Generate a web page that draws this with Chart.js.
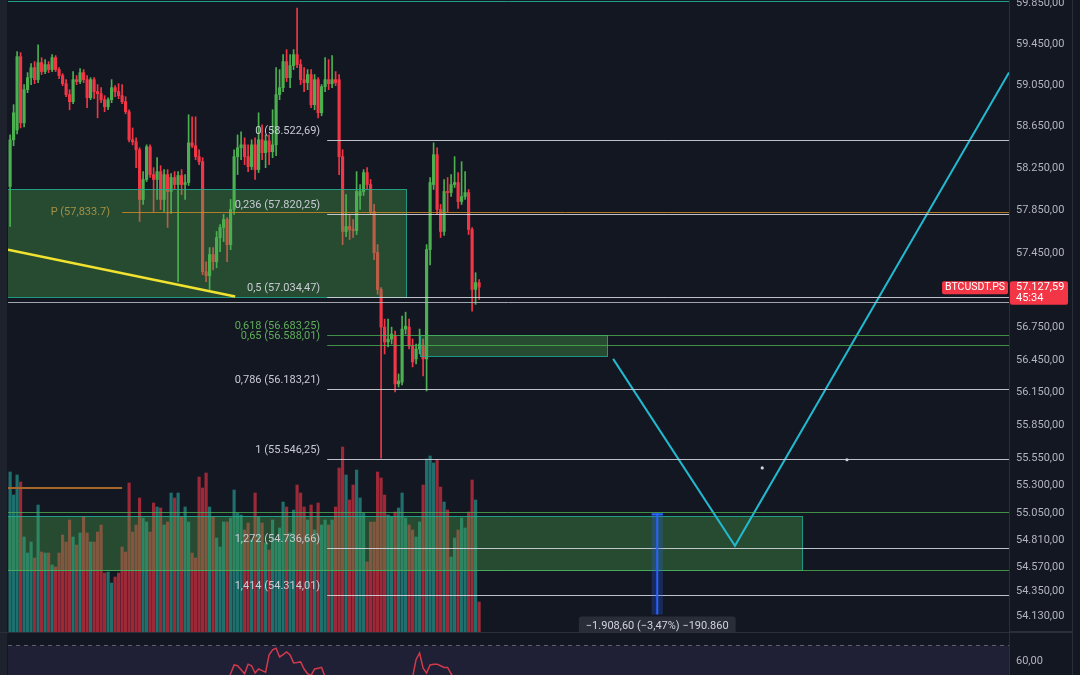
<!DOCTYPE html>
<html>
<head>
<meta charset="utf-8">
<title>BTCUSDT.PS</title>
<script src="https://cdn.jsdelivr.net/npm/chart.js@4.4.1/dist/chart.umd.min.js"></script>
<style>
  html, body { margin: 0; padding: 0; background: #131722; overflow: hidden; }
  #mainWrap { position: absolute; left: 0; top: 0; width: 1080px; height: 632px; }
  #rsiWrap { position: absolute; left: 0; top: 632px; width: 1080px; height: 43px; }
</style>
</head>
<body>
<div id="mainWrap"><canvas id="main"></canvas></div>
<div id="rsiWrap"><canvas id="rsi"></canvas></div>
<script>
// ---- candles (one per bar, left to right) ----
const opens = [
  58077,58523,58618,59326,58686,59006,59122,59219,59103,59268,
  59181,59249,59200,59316,59200,59142,59064,58958,58890,59103,
  59084,59171,59103,58928,59103,58987,58967,58909,58841,58909,
  59025,58987,58948,58890,58793,58523,58504,58428,57954,58144,
  58456,58191,58144,58219,57954,58191,58030,58163,58096,58182,
  58096,58115,58494,58466,58362,58314,57272,57235,57433,57366,
  57594,57689,57764,57527,57859,58362,58447,58475,58362,58267,
  58475,58238,58523,58400,58513,58409,58475,58958,59025,59278,
  59122,59239,59346,59249,59103,59074,59152,58861,59103,58783,
  59035,59103,59064,59103,59103,58362,57651,57698,57670,57660,
  57992,58030,58210,58096,57840,57452,57106,56755,56617,56644,
  56672,56229,56247,56737,56755,56580,56460,56552,56580,56460,
  57480,58096,58381,57859,57651,58030,58020,58096,58115,57935,
  57982,58020,57670,57106,57170
];
const highs = [
  58570,58861,59375,59365,59055,59171,59258,59278,59442,59316,
  59297,59278,59346,59336,59219,59161,59103,59006,59181,59142,
  59210,59200,59142,59122,59122,59055,59025,58948,58928,59103,
  59045,59064,59055,58938,58812,58637,58542,58447,58219,58475,
  58475,58257,58352,58276,58238,58238,58200,58219,58219,58238,
  58191,58764,58744,58744,58428,58352,57366,57499,57499,57651,
  57717,57812,57783,57954,58428,58570,58599,58542,58475,58523,
  58542,58783,58667,58570,58570,58812,59219,59200,59346,59394,
  59346,59394,59801,59297,59219,59200,59200,59152,59122,59055,
  59316,59297,59336,59181,59152,58428,58001,57812,57764,58219,
  58096,58238,58257,58144,57907,57527,57124,56829,56829,56755,
  56718,56321,56857,56894,56829,56644,56598,56737,56644,57527,
  58163,58494,58447,57907,58144,58163,58191,58362,58210,58314,
  58219,58049,57689,57263,57198
];
const lows = [
  57698,58466,58580,58637,58647,58977,59055,59064,59074,59152,
  59161,59171,59181,59181,59113,59045,58938,58812,58870,59055,
  59064,59074,58831,58909,58919,58734,58880,58793,58812,58880,
  58938,58919,58870,58773,58504,58475,58257,57745,57907,58125,
  58163,57840,57954,57859,57840,57689,57821,58049,57180,58001,
  57954,58087,58447,58333,58286,57244,57180,57106,57290,57309,
  57461,57556,57366,57480,57812,58191,58333,58286,58219,58238,
  58144,58210,58333,58257,58286,58352,58371,58909,58987,59084,
  59025,59200,59219,59055,58987,59006,58831,58812,58734,58754,
  58987,59006,59025,59045,58191,57527,57603,57575,57594,57622,
  57859,57992,58049,57812,57385,57060,55550,56506,56570,56598,
  56155,56201,56220,56690,56552,56386,56414,56506,56303,56164,
  57337,58049,57812,57594,57613,57831,57982,58068,57869,57907,
  57954,57622,56903,56967,57014
];
const closes = [
  58523,58783,59326,58686,59006,59122,59219,59103,59268,59181,
  59249,59200,59316,59200,59142,59064,58958,58890,59103,59084,
  59171,59103,58928,59103,58987,58967,58909,58841,58909,59025,
  58987,58948,58890,58793,58523,58504,58428,57954,58144,58456,
  58191,58144,58219,57954,58191,58030,58163,58096,58182,58096,
  58115,58494,58466,58362,58314,57272,57235,57433,57366,57594,
  57689,57764,57527,57859,58362,58447,58475,58362,58267,58475,
  58238,58523,58400,58513,58409,58475,58958,59025,59278,59122,
  59239,59346,59249,59103,59074,59152,58861,59103,58783,59035,
  59103,59064,59103,59074,58362,57651,57698,57670,57660,58030,
  58030,58210,58096,57840,57452,57106,56755,56617,56644,56690,
  56229,56257,56737,56764,56580,56432,56552,56598,56460,57480,
  58115,58381,57859,57651,58030,58020,58096,58115,57935,57982,
  58020,57670,57106,57170,57127.59
];
const volumes = [
  1600,1370,1570,1500,950,790,900,740,1270,800,
  790,790,670,650,790,970,900,1120,950,870,
  990,1150,990,900,900,1000,1070,590,600,490,
  550,590,850,800,1490,1000,1070,1340,1140,1100,
  1000,1290,1250,1240,1070,1100,1390,1340,1390,1150,
  1250,1100,790,740,1550,1440,1590,1250,1150,940,
  850,1100,1100,1140,1420,1190,1170,1020,1090,920,
  1390,1150,1090,890,820,1120,920,1040,1300,1250,
  990,1220,1470,1390,1250,1120,1270,1020,1290,1070,
  1120,1070,1120,1250,1640,1850,1570,1320,1470,1620,
  1340,1190,700,1100,1100,1600,1540,1370,1170,1150,
  1200,1240,1390,1140,1070,1020,950,1100,1470,1730,
  1760,1690,1720,1450,1300,1220,750,940,1020,1140,
  1040,1200,1520,1320,300
];
const rsi = [
  46,48,50,44,47,48,49,47,49,47,
  48,47,49,47,46,45,43,42,46,46,
  48,47,44,47,45,45,44,43,44,47,
  46,45,44,42,37,37,36,30,35,41,
  37,37,38,36,39,37,40,39,40,41,
  41,48,47,45,44,33,33,37,36,41,
  43,44,48,52,57.5,57,54.5,52,58,57,
  52.5,55,54,53,63.8,67,68,62.5,64,65.6,
  63.8,58.8,59,59.4,55,52,51,55,55.5,56,
  50,49,50,49.5,40,33,29,29,29,34,
  35,38,36,32,27,23,20,21,22,23,
  20,21,30,31,36,50,61,65,55.5,52.5,
  57.5,58,58,57,56,56,52,49,46,47,
  47,42,35,37,36
];

// ---- axis ticks ----
const priceTicks = [59850,59450,59050,58650,58250,57850,57450,56750,56450,56150,55850,55550,55300,55050,54810,54570,54350,54130];
const rsiTicks = [60];
const rsiUpper = 70;

// ---- drawings (bar index / price) ----
const fibRatios = ['0','0,236','0,5','0,618','0,65','0,786','1','1,272','1,414'];
const fibPrices = [58522.69,57820.25,57034.47,56683.25,56588.01,56183.21,55546.25,54736.66,54314.01];
const fibStart = 90.6;
const fibLabelAt = 88.6;
const zoneFrom = [-3, -3, 117.1];
const zoneTo = [113, 226.3, 170.6];
const zoneTop = [58058, 55023, 56683.25];
const zoneBottom = [57032, 54538, 56487];
const levelPrices = [59874, 56985, 55059, 54538];
const pivotPrice = 57833.7;
const pivotFrom = 32;
const rayPrice = 55279;
const rayX = [-0.6, 32];
const trendX = [-0.6, 64.3];
const trendY = [57480, 57041];
const projX = [172.3, 207.1, 285.4];
const projY = [56460, 54758, 59171];
const dotX = [214.9, 239.1];
const dotY = [55461, 55535];
const measureAt = 184.9;
const measureHalf = 1.6;
const measureTop = 55050;
const measureBottom = 54145;
const measureText = '\u22121.908,60 (\u22123,47%) \u2212190.860';
const symbol = 'BTCUSDT.PS';
const countdown = '45:34';

// ---- styling ----
const GREEN = '#4caf50', RED = '#f23645';
const VOL_UP = 'rgba(38,166,154,0.62)', VOL_DN = 'rgba(242,54,69,0.62)';
const levelColors = ['#1e9e8a', 'rgba(178,181,190,0.9)', 'rgba(76,175,80,0.8)', 'rgba(76,175,80,0.8)'];
const fibGreen = ['0,618', '0,65'];
const X_MIN = -0.6, X_MAX = 285.4;

Chart.defaults.font.family = 'Roboto, "Liberation Sans", sans-serif';
Chart.defaults.font.size = 11;

function fmt(v, d) {
  const s = v.toFixed(d).split('.');
  const int = s[0].replace(/\B(?=(\d{3})+(?!\d))/g, '.');
  return s[1] ? int + ',' + s[1] : int;
}
function fmtUS(v, d) {
  const s = v.toFixed(d).split('.');
  return s[0].replace(/\B(?=(\d{3})+(?!\d))/g, ',') + (s[1] ? '.' + s[1] : '');
}
function rr(ctx, x, y, w, h, r) {
  ctx.beginPath();
  if (ctx.roundRect) ctx.roundRect(x, y, w, h, r); else ctx.rect(x, y, w, h);
}

const idx = closes.map((_, i) => i);
const up = closes.map((c, i) => c >= opens[i]);
const px = (c, v) => c.scales.x.getPixelForValue(v);
const py = (c, v) => c.scales.y.getPixelForValue(v);

const overlay = {
  id: 'overlay',
  beforeDraw(c) {
    const { ctx, width, height } = c;
    ctx.save();
    ctx.fillStyle = '#131722';
    ctx.fillRect(0, 0, width, height);
    ctx.fillStyle = '#1e222d';
    ctx.fillRect(0, 0, 7, height);
    ctx.restore();
  },
  // zones go over candles and volume, under the drawn lines
  afterDatasetDraw(c, args) {
    if (c.data.datasets[args.index].label !== 'bodies') return;
    const { ctx, chartArea: a } = c;
    ctx.save();
    ctx.beginPath(); ctx.rect(a.left, a.top, a.right - a.left, a.bottom - a.top); ctx.clip();
    zoneFrom.forEach((f, k) => {
      const x0 = Math.round(px(c, f)), x1 = Math.round(px(c, zoneTo[k]));
      const y0 = Math.round(py(c, zoneTop[k])), y1 = Math.round(py(c, zoneBottom[k]));
      ctx.fillStyle = 'rgba(76,175,80,0.34)';
      ctx.fillRect(x0, y0, x1 - x0, y1 - y0);
      ctx.strokeStyle = 'rgba(34,171,148,0.85)';
      ctx.lineWidth = 1;
      ctx.strokeRect(x0 + 0.5, y0 + 0.5, x1 - x0, y1 - y0);
    });
    ctx.restore();
  },
  afterDatasetsDraw(c) {
    const { ctx, chartArea: a } = c;
    ctx.save();
    ctx.beginPath(); ctx.rect(a.left, a.top, a.right - a.left, a.bottom - a.top); ctx.clip();
    ctx.lineWidth = 1;
    levelPrices.forEach((p, k) => {
      const y = Math.round(py(c, p)) + 0.5;
      ctx.strokeStyle = levelColors[k];
      ctx.beginPath(); ctx.moveTo(a.left, y); ctx.lineTo(a.right, y); ctx.stroke();
    });
    // pivot
    const yp = Math.round(py(c, pivotPrice)) + 0.5;
    const xp = px(c, pivotFrom);
    ctx.strokeStyle = 'rgba(200,138,40,0.85)';
    ctx.beginPath(); ctx.moveTo(xp, yp); ctx.lineTo(a.right, yp); ctx.stroke();
    ctx.font = '11px Roboto, "Liberation Sans", sans-serif';
    ctx.textAlign = 'right'; ctx.textBaseline = 'middle';
    ctx.fillStyle = '#a39146';
    ctx.fillText('P (' + fmtUS(pivotPrice, 1) + ')', xp - 12, yp);
    // fibonacci
    fibRatios.forEach((r, k) => {
      const y = Math.round(py(c, fibPrices[k])) + 0.5;
      const g = fibGreen.includes(r);
      ctx.strokeStyle = g ? 'rgba(76,175,80,0.8)' : 'rgba(209,212,220,0.9)';
      ctx.beginPath(); ctx.moveTo(px(c, fibStart), y); ctx.lineTo(a.right, y); ctx.stroke();
      ctx.fillStyle = g ? '#5fae5a' : '#c9ccd4';
      ctx.fillText(r + ' (' + fmt(fibPrices[k], 2) + ')', px(c, fibLabelAt), y - 9);
    });
    // measure tool
    const mx = px(c, measureAt);
    const m0 = px(c, measureAt - measureHalf), m1 = px(c, measureAt + measureHalf);
    const mt = py(c, measureTop), mb = py(c, measureBottom);
    ctx.fillStyle = 'rgba(41,98,255,0.25)';
    ctx.fillRect(m0, mt, m1 - m0, mb - mt);
    ctx.strokeStyle = '#2962ff'; ctx.lineWidth = 2;
    ctx.beginPath(); ctx.moveTo(mx, mt); ctx.lineTo(mx, mb); ctx.stroke();
    ctx.beginPath(); ctx.moveTo(m0, mt + 1); ctx.lineTo(m1, mt + 1); ctx.stroke();
    const tw = ctx.measureText(measureText).width + 14;
    ctx.fillStyle = 'rgba(42,46,57,0.95)';
    rr(ctx, mx - tw / 2, mb + 2, tw, 18, 3); ctx.fill();
    ctx.fillStyle = '#d1d4dc'; ctx.textAlign = 'center';
    ctx.fillText(measureText, mx, mb + 11.5);
    ctx.restore();
  },
  afterDraw(c) {
    const { ctx, chartArea: a, height } = c;
    const last = closes[closes.length - 1];
    const y = py(c, last);
    ctx.save();
    ctx.font = '10.5px Roboto, "Liberation Sans", sans-serif';
    ctx.textBaseline = 'middle';
    const w = ctx.measureText(symbol).width + 6;
    ctx.fillStyle = RED;
    rr(ctx, a.right - w - 1, y - 6, w, 13, 2); ctx.fill();
    ctx.fillStyle = '#ffffff'; ctx.textAlign = 'center';
    ctx.fillText(symbol, a.right - 1 - w / 2, y + 0.5);
    ctx.font = '11px Roboto, "Liberation Sans", sans-serif';
    ctx.fillStyle = RED;
    rr(ctx, a.right + 1, y - 6, 58, 23.5, 2); ctx.fill();
    ctx.fillStyle = '#ffffff'; ctx.textAlign = 'left';
    ctx.fillText(fmt(last, 2), a.right + 7, y + 0.5);
    ctx.fillText(countdown, a.right + 7, y + 11);
    ctx.strokeStyle = '#2a2e39'; ctx.lineWidth = 1;
    ctx.beginPath(); ctx.moveTo(1072.5, 0); ctx.lineTo(1072.5, height); ctx.stroke();
    ctx.beginPath(); ctx.moveTo(a.right, height - 0.5); ctx.lineTo(1072, height - 0.5); ctx.stroke();
    ctx.restore();
  }
};

new Chart(document.getElementById('main'), {
  type: 'bar',
  data: {
    datasets: [
      { label: 'volume', yAxisID: 'vol', data: idx.map(i => ({ x: i, y: volumes[i] })),
        backgroundColor: up.map(u => u ? VOL_UP : VOL_DN), barThickness: 2.5, grouped: false, order: 3 },
      { label: 'wicks', data: idx.map(i => ({ x: i, y: [lows[i], highs[i]] })),
        backgroundColor: up.map(u => u ? GREEN : RED), barThickness: 1, grouped: false, order: 2 },
      { label: 'bodies', data: idx.map(i => ({ x: i, y: [opens[i], closes[i]] })),
        backgroundColor: up.map(u => u ? GREEN : RED), barThickness: 2.5, minBarLength: 1, grouped: false, order: 1 },
      { type: 'line', label: 'trend', data: trendX.map((x, k) => ({ x, y: trendY[k] })),
        borderColor: '#f2e230', borderWidth: 2.5, pointRadius: 0, order: 0 },
      { type: 'line', label: 'ray', data: rayX.map(x => ({ x, y: rayPrice })),
        borderColor: '#a5652b', borderWidth: 2, pointRadius: 0, order: 0 },
      { type: 'line', label: 'projection', data: projX.map((x, k) => ({ x, y: projY[k] })),
        borderColor: '#22b8cf', borderWidth: 2, pointRadius: 0, order: 0 },
      { type: 'line', label: 'dots', data: dotX.map((x, k) => ({ x, y: dotY[k] })),
        showLine: false, pointRadius: 1.6, pointBackgroundColor: '#d1d4dc', pointBorderWidth: 0, order: 0 }
    ]
  },
  options: {
    responsive: true,
    maintainAspectRatio: false,
    animation: false,
    layout: { autoPadding: false, padding: { left: 8, right: 0, top: 0, bottom: 0 } },
    plugins: { legend: { display: false }, tooltip: { enabled: false } },
    scales: {
      x: { type: 'linear', min: X_MIN, max: X_MAX, offset: false, display: false },
      y: {
        type: 'logarithmic', position: 'right', min: 53990, max: 59879,
        afterBuildTicks: s => { s.ticks = priceTicks.map(v => ({ value: v })); },
        afterFit: s => { s.width = 71; s.paddingTop = 0; s.paddingBottom = 0; },
        grid: { display: false, drawTicks: false },
        border: { display: true, color: '#2a2e39' },
        ticks: { autoSkip: false, padding: 7, color: '#b2b5be', callback: v => fmt(v, 2) }
      },
      vol: { type: 'linear', min: 0, max: 6320, display: false }
    }
  },
  plugins: [overlay]
});

const rsiPane = {
  id: 'rsiPane',
  beforeDraw(c) {
    const { ctx, chartArea: a, width, height } = c;
    ctx.save();
    ctx.fillStyle = '#131722'; ctx.fillRect(0, 0, width, height);
    ctx.fillStyle = '#1e222d'; ctx.fillRect(0, 0, 7, height);
    const y70 = Math.round(c.scales.y.getPixelForValue(rsiUpper)) + 0.5;
    ctx.fillStyle = 'rgba(126,87,194,0.12)';
    ctx.fillRect(a.left, y70, a.right - a.left, a.bottom - y70);
    ctx.strokeStyle = '#5d606b'; ctx.lineWidth = 1; ctx.setLineDash([4, 4]);
    ctx.beginPath(); ctx.moveTo(a.left, y70); ctx.lineTo(a.right, y70); ctx.stroke();
    ctx.setLineDash([]);
    ctx.strokeStyle = '#2a2e39';
    ctx.beginPath(); ctx.moveTo(0, 0.5); ctx.lineTo(1072, 0.5); ctx.stroke();
    ctx.beginPath(); ctx.moveTo(1072.5, 0); ctx.lineTo(1072.5, height); ctx.stroke();
    ctx.restore();
  }
};

new Chart(document.getElementById('rsi'), {
  type: 'line',
  data: {
    datasets: [{ label: 'RSI', data: idx.map(i => ({ x: i, y: rsi[i] })),
      borderColor: '#d23a4c', borderWidth: 1.5, pointRadius: 0 }]
  },
  options: {
    responsive: true,
    maintainAspectRatio: false,
    animation: false,
    layout: { autoPadding: false, padding: { left: 8, right: 0, top: 0, bottom: 0 } },
    plugins: { legend: { display: false }, tooltip: { enabled: false } },
    scales: {
      x: { type: 'linear', min: X_MIN, max: X_MAX, display: false },
      y: {
        position: 'right', min: 51.25, max: 78.1,
        afterBuildTicks: s => { s.ticks = rsiTicks.map(v => ({ value: v })); },
        afterFit: s => { s.width = 71; s.paddingTop = 0; s.paddingBottom = 0; },
        grid: { display: false, drawTicks: false },
        border: { display: true, color: '#2a2e39' },
        ticks: { padding: 7, color: '#b2b5be', callback: v => fmt(v, 2) }
      }
    }
  },
  plugins: [rsiPane]
});
</script>
</body>
</html>
